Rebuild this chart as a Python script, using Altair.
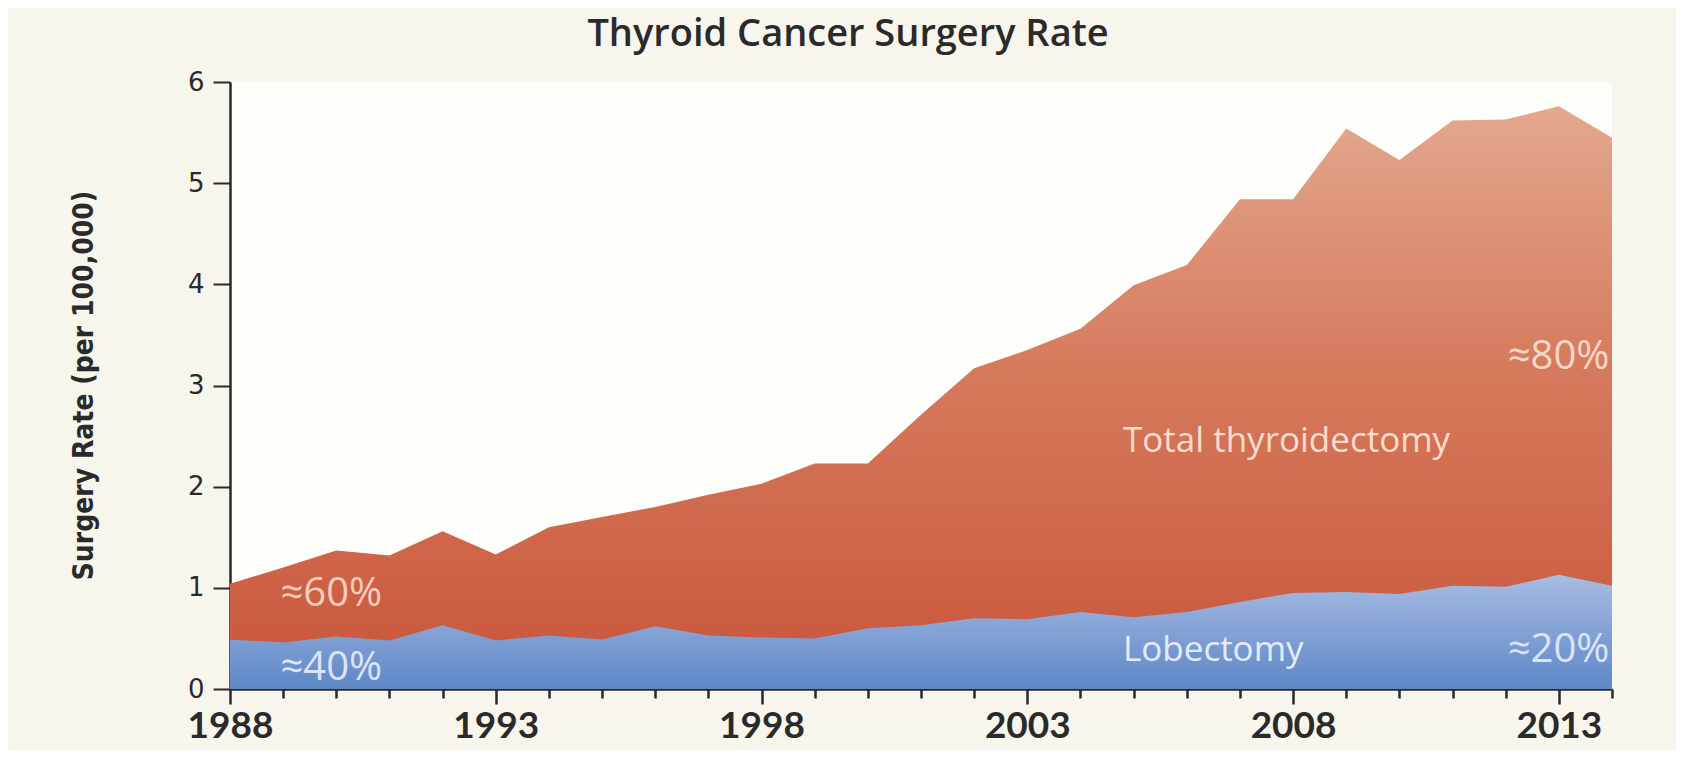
import altair as alt
import pandas as pd

years = list(range(1988, 2015))
total_rate = [1.04, 1.20, 1.37, 1.32, 1.56, 1.33, 1.60, 1.70, 1.80, 1.92,
              2.03, 2.23, 2.23, 2.71, 3.17, 3.35, 3.56, 3.99, 4.19, 4.84,
              4.84, 5.54, 5.23, 5.62, 5.63, 5.76, 5.45]
lobectomy_rate = [0.49, 0.46, 0.52, 0.48, 0.63, 0.48, 0.53, 0.49, 0.62, 0.53,
                  0.51, 0.50, 0.60, 0.63, 0.70, 0.69, 0.76, 0.71, 0.76, 0.86,
                  0.95, 0.96, 0.94, 1.02, 1.01, 1.13, 1.02]

y_ticks = [0, 1, 2, 3, 4, 5, 6]

# annotations (data units)
ann_left_text = ["≈60%", "≈40%"]
ann_left_x = [1988.95, 1988.95]
ann_left_y = [0.94, 0.21]
ann_left_color = ["#f6cdbd", "#dbe4f5"]

ann_right_text = ["≈80%", "≈20%"]
ann_right_x = [2013.95, 2013.95]
ann_right_y = [3.28, 0.385]
ann_right_color = ["#f7d6c7", "#dbe4f5"]

ann_mid_text = ["Total thyroidectomy", "Lobectomy"]
ann_mid_x = [2004.8, 2004.8]
ann_mid_y = [2.45, 0.385]
ann_mid_color = ["#f8dccd", "#e4ebf8"]

df = pd.DataFrame({"year": years, "total": total_rate, "lob": lobectomy_rate})
df_l = pd.DataFrame({"t": ann_left_text, "x": ann_left_x, "y": ann_left_y, "c": ann_left_color})
df_r = pd.DataFrame({"t": ann_right_text, "x": ann_right_x, "y": ann_right_y, "c": ann_right_color})
df_m = pd.DataFrame({"t": ann_mid_text, "x": ann_mid_x, "y": ann_mid_y, "c": ann_mid_color})

FONT = "Lato"
ANN_FONT = "Open Sans"
DARK = "#2a2a2a"
MAJOR = "(datum.value - 1988) % 5 === 0"

xscale = alt.Scale(domain=[1988, 2014], nice=False, zero=False)
yscale = alt.Scale(domain=[0, 6], nice=False)

x_axis = alt.X("year:Q", scale=xscale, title=None,
               axis=alt.Axis(values=years, format="d", orient="bottom",
                             labelExpr=MAJOR + " ? datum.label : ''",
                             tickSize={"condition": {"test": MAJOR, "value": 15}, "value": 9},
                             tickWidth=2.5, tickColor=DARK,
                             domainColor=DARK, domainWidth=2.5,
                             labelFont=FONT, labelFontSize=37, labelFontWeight="bold",
                             labelColor=DARK, labelPadding=4, grid=False,
                             labelFlush=False, labelOverlap=False))

y_axis = alt.Y("total:Q", scale=yscale,
               title="Surgery Rate (per 100,000)",
               axis=alt.Axis(values=y_ticks, format="d", tickSize=17, tickWidth=2, tickColor=DARK,
                             domainColor=DARK, domainWidth=2.5,
                             labelFont="DejaVu Sans", labelFontSize=26, labelColor=DARK,
                             labelPadding=9, grid=False,
                             titleFont='"DejaVu Sans Condensed", "DejaVu Sans", sans-serif',
                             titleFontSize=28, titleFontWeight="bold", titleColor=DARK,
                             titleAngle=-90, titleX=-146, titleY=303,
                             titleAlign="center", titleBaseline="middle"))

orange = alt.Gradient(gradient="linear",
                      stops=[alt.GradientStop(color="#e3a88e", offset=0),
                             alt.GradientStop(color="#d67a5d", offset=0.45),
                             alt.GradientStop(color="#c9553a", offset=1)],
                      x1=1, x2=1, y1=0, y2=1)
blue = alt.Gradient(gradient="linear",
                    stops=[alt.GradientStop(color="#a9bce3", offset=0),
                           alt.GradientStop(color="#5d87c7", offset=1)],
                    x1=1, x2=1, y1=0, y2=1)

total_area = alt.Chart(df).mark_area(color=orange, line=False).encode(
    x=x_axis, y=y_axis)

lob_area = alt.Chart(df).mark_area(color=blue).encode(
    x=alt.X("year:Q", scale=xscale),
    y=alt.Y("lob:Q", scale=yscale))

def texts(d, align, size):
    return alt.Chart(d).mark_text(font=ANN_FONT, fontSize=size, align=align, baseline="middle").encode(
        x=alt.X("x:Q", scale=xscale),
        y=alt.Y("y:Q", scale=yscale),
        text="t:N",
        color=alt.Color("c:N", scale=None))

chart = alt.layer(
    total_area, lob_area,
    texts(df_l, "left", 40), texts(df_r, "right", 40), texts(df_m, "left", 35)
).properties(
    width=1382, height=607,
    autosize=alt.AutoSizeParams(type="none"),
    padding={"left": 222, "top": 74, "right": 64, "bottom": 61},
    background="#f7f5ec",
    title=alt.TitleParams("Thyroid Cancer Surgery Rate", font=ANN_FONT, fontSize=38,
                          fontWeight=600, color=DARK, anchor="middle",
                          frame="group", dx=-73, dy=45, offset=22, baseline="bottom"),
).configure_view(fill="#fdfdf9", stroke=None)

chart.save("out.html", embed_options={"renderer": "svg", "actions": False})
